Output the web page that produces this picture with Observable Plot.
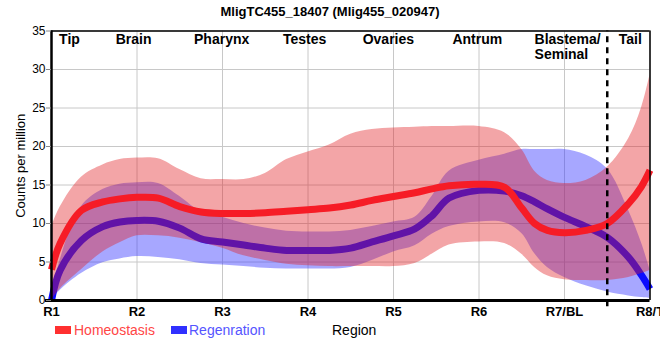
<!DOCTYPE html>
<html>
<head>
<meta charset="utf-8">
<script src="https://cdn.jsdelivr.net/npm/d3@7"></script>
<script src="https://cdn.jsdelivr.net/npm/@observablehq/plot@0.6"></script>
<style>
  html, body { margin: 0; padding: 0; background: #fff; }
  #wrap { position: relative; width: 660px; height: 360px; overflow: hidden; font-family: Arial, "Liberation Sans", sans-serif; }
  #title { height: 24px; line-height: 24px; text-align: center; font-weight: bold; font-size: 13px; color: #000; }
  .lg { position: absolute; font-size: 14px; line-height: 16px; top: 322px; white-space: nowrap; }
  .sw { position: absolute; top: 326px; width: 16px; height: 8px; }
</style>
</head>
<body>
<div id="wrap">
  <div id="title"></div>
  <div id="chart"></div>
  <div class="sw" style="left:55px;background:#ff3030"></div>
  <div class="lg" id="lg0" style="left:74px;color:#ff4646"></div>
  <div class="sw" style="left:171px;background:#3030ff"></div>
  <div class="lg" id="lg1" style="left:189px;color:#5555ff"></div>
  <div class="lg" id="xlab" style="left:332px;color:#000"></div>
</div>
<script>
const title = "MligTC455_18407 (Mlig455_020947)";
const seriesNames = ["Homeostasis", "Regenration"];
const xAxisLabel = "Region";
const yAxisLabel = "Counts per million";
const xTickPos = [0, 1, 2, 3, 4, 5, 6, 7];
const xTickLabels = ["R1", "R2", "R3", "R4", "R5", "R6", "R7/BL", "R8/T"];
const yTicks = [0, 5, 10, 15, 20, 25, 30, 35];
const regionNames = ["Tip", "Brain", "Pharynx", "Testes", "Ovaries", "Antrum", "Blastema/", "Seminal", "Tail"];
const regionPos = [0.21, 0.96, 1.99, 2.96, 3.94, 4.98, 5.65, 5.65, 6.77];
const regionLine = [0, 0, 0, 0, 0, 0, 0, 1, 0];
const regionAlign = ["middle", "middle", "middle", "middle", "middle", "middle", "start", "start", "middle"];
const dashX = 6.5;

// positions along the body axis (R1 = 0 ... R8/T = 7) where values were read
const xs =    [0, 0.1, 0.35, 0.6, 0.8, 1, 1.25, 1.5, 1.75, 2, 2.25, 2.5, 2.75, 3, 3.25, 3.5, 3.75, 4, 4.25, 4.45, 4.65, 5, 5.3, 5.5, 5.65, 5.8, 6, 6.25, 6.5, 6.75, 6.9, 7];
// Homeostasis
const hMean = [4.0, 7.4, 11.7, 12.8, 13.2, 13.4, 13.3, 12.2, 11.5, 11.3, 11.3, 11.4, 11.6, 11.8, 12.0, 12.4, 13.0, 13.5, 14.0, 14.5, 14.9, 15.1, 14.7, 12.0, 10.0, 9.1, 8.8, 9.1, 10.0, 12.6, 14.8, 16.9];
const hHi =   [9.5, 12.1, 16.0, 17.6, 18.3, 18.5, 18.4, 17.0, 15.8, 15.7, 15.7, 16.5, 18.3, 19.3, 20.2, 21.6, 22.2, 22.4, 22.5, 22.6, 22.6, 22.6, 21.8, 19.6, 16.8, 15.6, 15.2, 15.6, 17.3, 21.0, 25.0, 29.3];
const hLo =   [0.0, 1.5, 4.0, 6.3, 7.5, 8.4, 8.4, 8.1, 7.5, 6.8, 5.8, 5.2, 4.7, 4.5, 4.4, 4.4, 4.4, 4.4, 4.8, 6.0, 7.2, 7.6, 7.4, 6.0, 4.3, 3.2, 2.7, 2.6, 2.6, 3.0, 3.5, 3.9];
// Regeneration
const rMean = [0.0, 3.9, 7.8, 9.6, 10.2, 10.4, 10.3, 9.4, 8.0, 7.6, 7.2, 6.8, 6.5, 6.5, 6.5, 6.8, 7.6, 8.4, 9.3, 11.0, 13.3, 14.3, 14.2, 13.6, 12.8, 11.9, 10.8, 9.6, 8.2, 5.6, 3.3, 1.5];
const rHi =   [0.0, 5.2, 12.2, 14.4, 15.1, 15.3, 15.2, 13.5, 11.5, 10.8, 10.0, 9.4, 9.0, 8.9, 8.9, 9.1, 9.6, 10.2, 10.8, 13.5, 16.8, 18.2, 19.0, 19.6, 19.6, 19.6, 19.6, 18.9, 17.1, 11.7, 7.5, 4.0];
const rLo =   [0.0, 1.3, 3.5, 4.9, 5.4, 5.7, 5.6, 5.3, 4.8, 4.6, 4.4, 4.2, 4.1, 4.1, 4.1, 4.3, 5.2, 6.3, 7.1, 8.6, 9.6, 10.2, 10.1, 8.7, 6.1, 4.3, 3.0, 1.9, 1.1, 0.6, 0.4, 0.3];

const rows = xs.map((x, i) => ({x, hMean: hMean[i], hHi: hHi[i], hLo: hLo[i], rMean: rMean[i], rHi: rHi[i], rLo: rLo[i]}));
const regions = regionNames.map((name, i) => ({name, x: regionPos[i], line: regionLine[i], align: regionAlign[i]}));

document.getElementById("title").textContent = title;
document.getElementById("lg0").textContent = seriesNames[0];
document.getElementById("lg1").textContent = seriesNames[1];
document.getElementById("xlab").textContent = xAxisLabel;

const curve = "catmull-rom";
const labelMarks = ["middle", "start"].map(a => Plot.text(regions.filter(d => d.align === a), {
  x: "x", y: (d) => 35 - d.line * 1.95, text: "name", lineAnchor: "top", dy: 3,
  textAnchor: a, fontSize: 14, fontWeight: "bold", fill: "#000"
}));

const chart = Plot.plot({
  width: 660,
  height: 296,
  marginTop: 6.5,
  marginBottom: 20,
  marginLeft: 51,
  marginRight: 10.5,
  style: {fontFamily: "Arial, 'Liberation Sans', sans-serif", fontSize: "12px", background: "#fff", overflow: "visible"},
  x: {domain: [0, 7]},
  y: {domain: [0, 35]},
  marks: [
    Plot.ruleX(xTickPos, {stroke: "#c8c8c8", strokeWidth: 1}),
    Plot.ruleY(yTicks, {stroke: "#c8c8c8", strokeWidth: 1}),
    Plot.areaY(rows, {x: "x", y1: "rLo", y2: "rHi", curve, fill: "rgb(50,50,255)", fillOpacity: 0.43}),
    Plot.lineY(rows, {x: "x", y: "rMean", curve, stroke: "#0c0cff", strokeWidth: 7, strokeLinecap: "butt"}),
    Plot.areaY(rows, {x: "x", y1: "hLo", y2: "hHi", curve, fill: "rgb(225,30,35)", fillOpacity: 0.4}),
    Plot.lineY(rows, {x: "x", y: "hMean", curve, stroke: "#f61c26", strokeWidth: 7, strokeLinecap: "butt"}),
    Plot.ruleX([dashX], {y1: -0.8, y2: 35, stroke: "#000", strokeWidth: 2.5, strokeDasharray: "6,5"}),
    Plot.ruleX([7], {stroke: "#000", strokeWidth: 1.5}),
    Plot.ruleY([35], {stroke: "#000", strokeWidth: 1.5}),
    Plot.ruleX([0], {stroke: "#000", strokeWidth: 2.5}),
    Plot.ruleY([0], {x1: -0.07, x2: 7, stroke: "#000", strokeWidth: 3}),
    Plot.axisY({ticks: yTicks, tickSize: 5, tickPadding: 1, fontSize: 12, label: null, stroke: "#888"}),
    Plot.axisX({ticks: xTickPos, tickSize: 0, tickPadding: 6, fontSize: 13, fontWeight: "bold", label: null, tickFormat: (d) => xTickLabels[xTickPos.indexOf(d)]}),
    Plot.text([yAxisLabel], {frameAnchor: "left", dx: -31, rotate: -90, textAnchor: "middle", lineAnchor: "middle", fontSize: 13, fill: "#000"}),
    ...labelMarks
  ]
});
document.getElementById("chart").appendChild(chart);
</script>
</body>
</html>
